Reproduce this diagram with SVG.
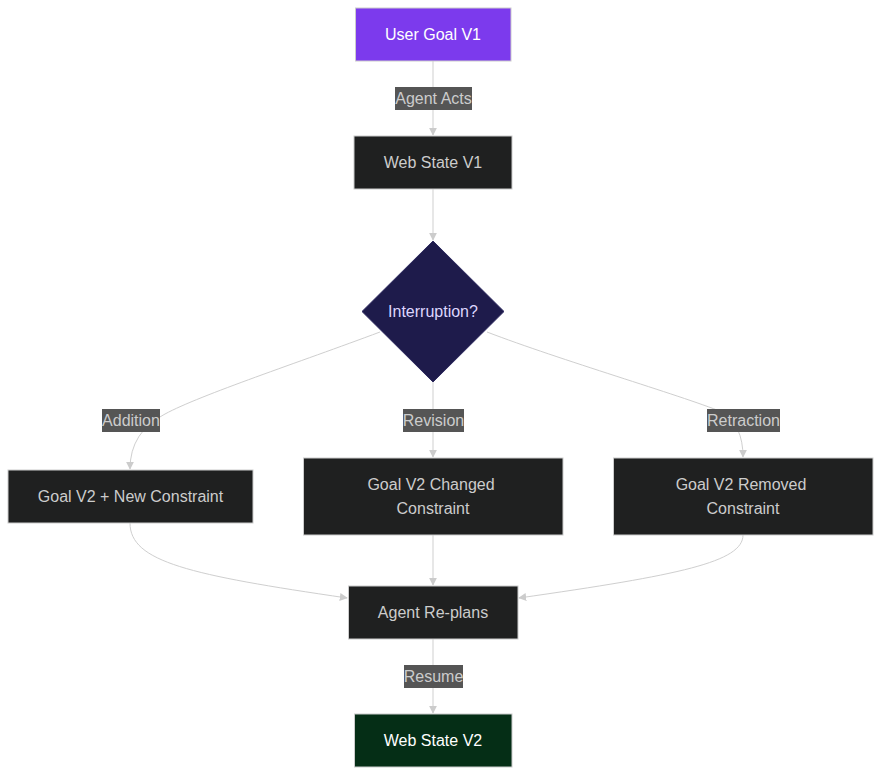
<svg xmlns="http://www.w3.org/2000/svg" width="881" height="776" viewBox="0 0 881 776">
<style>
text{font-family:"Liberation Sans",Arial,sans-serif;font-size:16px;text-anchor:middle;dominant-baseline:central}
.n{fill:#1f2020;stroke:#cccccc;stroke-width:1}
.nt{fill:#cccccc}
.e{fill:none;stroke:#cfcfcf;stroke-width:1}
.lb{fill:#555555}
.lt{fill:#cccccc}
</style>
<defs>
<marker id="ah" viewBox="0 0 10 10" refX="9" refY="5" markerWidth="8" markerHeight="8" markerUnits="userSpaceOnUse" orient="auto">
<path d="M0,0 L10,5 L0,10 z" fill="#cccccc"/>
</marker>
</defs>
<rect width="881" height="776" fill="#ffffff"/>
<g id="edges">
<path class="e" d="M433,61 L433,135" marker-end="url(#ah)"/>
<path class="e" d="M433,189 L433,240" marker-end="url(#ah)"/>
<path class="e" d="M380,332 C300,362 200,395 165,414 Q130,432 130,469" marker-end="url(#ah)"/>
<path class="e" d="M433,382 L433,457" marker-end="url(#ah)"/>
<path class="e" d="M487,332 C560,360 680,395 722,412 Q743,425 743,457" marker-end="url(#ah)"/>
<path class="e" d="M130,523 C130,562 190,575 347,598" marker-end="url(#ah)"/>
<path class="e" d="M433,535 L433,585" marker-end="url(#ah)"/>
<path class="e" d="M743,535 C743,562 680,575 519,598" marker-end="url(#ah)"/>
<path class="e" d="M433,639 L433,713" marker-end="url(#ah)"/>
<g id="edge-labels">
<rect class="lb" x="395" y="87" width="77" height="23"/><text class="lt" x="433.5" y="98">Agent Acts</text>
<rect class="lb" x="102" y="409" width="58" height="23"/><text class="lt" x="131" y="420">Addition</text>
<rect class="lb" x="403" y="409" width="61" height="23"/><text class="lt" x="433.5" y="420">Revision</text>
<rect class="lb" x="707" y="409" width="73" height="23"/><text class="lt" x="743.5" y="420">Retraction</text>
<rect class="lb" x="404" y="665" width="59" height="23"/><text class="lt" x="433.5" y="676">Resume</text>
</g>
</g>
<g id="user-goal-v1">
<rect x="355.5" y="8" width="155.5" height="53" fill="#7c3aed" stroke="#cccccc"/>
<text x="433" y="34" fill="#ffffff">User Goal V1</text>
</g>
<g id="web-state-v1">
<rect class="n" x="354" y="136" width="158" height="53"/>
<text class="nt" x="433" y="162">Web State V1</text>
</g>
<g id="interruption">
<polygon points="433,241 504,311.5 433,382 362,311.5" fill="#1e1b4b" stroke="#2e2a60"/>
<text x="433" y="311" fill="#ddd6fe">Interruption?</text>
</g>
<g id="goal-v2-new">
<rect class="n" x="8" y="470" width="245" height="53"/>
<text class="nt" x="130.5" y="496">Goal V2 + New Constraint</text>
</g>
<g id="goal-v2-changed">
<rect class="n" x="303.5" y="458" width="259.5" height="77"/>
<text class="nt" x="431" y="484">Goal V2 Changed</text>
<text class="nt" x="433" y="508">Constraint</text>
</g>
<g id="goal-v2-removed">
<rect class="n" x="613.5" y="458" width="259.5" height="77"/>
<text class="nt" x="741" y="484">Goal V2 Removed</text>
<text class="nt" x="743" y="508">Constraint</text>
</g>
<g id="agent-replans">
<rect class="n" x="348.5" y="586" width="169.5" height="53"/>
<text class="nt" x="433" y="612">Agent Re-plans</text>
</g>
<g id="web-state-v2">
<rect x="354.5" y="714" width="157.5" height="53" fill="#052e16" stroke="#cccccc"/>
<text x="433" y="740" fill="#ffffff">Web State V2</text>
</g>
</svg>
